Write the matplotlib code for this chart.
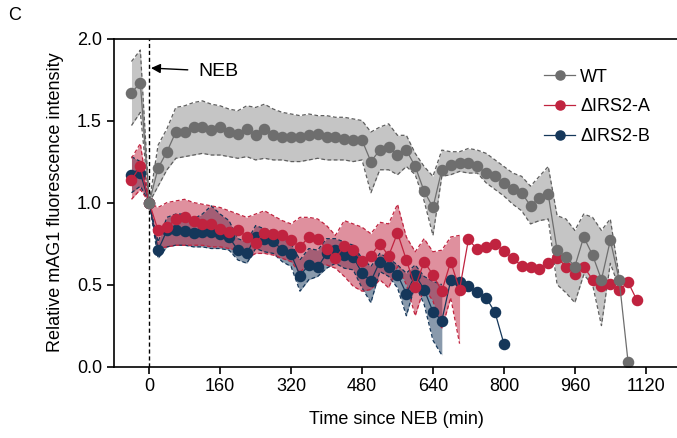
import numpy as np
import matplotlib
matplotlib.use("Agg")
import matplotlib.pyplot as plt

plt.rcParams['font.family'] = ['Liberation Sans', 'DejaVu Sans']

# time points (min since NEB), sampled every 20 min
t_wt = np.arange(-40, 1081, 20)
t_a = np.arange(-40, 1101, 20)
t_b = np.arange(-40, 801, 20)

wt_mean = [1.67, 1.73, 1.00, 1.21, 1.31, 1.43, 1.43, 1.46, 1.46, 1.44,
           1.46, 1.43, 1.42, 1.45, 1.41, 1.45, 1.41, 1.40, 1.40, 1.40,
           1.41, 1.42, 1.40, 1.40, 1.39, 1.38, 1.38, 1.25, 1.32, 1.34,
           1.29, 1.32, 1.22, 1.07, 0.97, 1.20, 1.23, 1.24, 1.24, 1.22,
           1.18, 1.16, 1.12, 1.08, 1.06, 0.98, 1.03, 1.05, 0.71, 0.67,
           0.61, 0.79, 0.68, 0.53, 0.77, 0.53, 0.03]
wt_upper = [1.86, 1.93, 1.00, 1.35, 1.45, 1.58, 1.59, 1.61, 1.62, 1.60,
            1.59, 1.57, 1.56, 1.59, 1.58, 1.60, 1.57, 1.55, 1.54, 1.53,
            1.54, 1.53, 1.53, 1.52, 1.52, 1.51, 1.50, 1.43, 1.46, 1.48,
            1.41, 1.41, 1.30, 1.22, 1.16, 1.32, 1.31, 1.31, 1.33, 1.32,
            1.30, 1.26, 1.22, 1.18, 1.16, 1.10, 1.16, 1.22, 0.92, 0.90,
            0.83, 0.93, 0.91, 0.83, 0.90, 0.55, np.nan]
wt_lower = [1.47, 1.55, 1.00, 1.10, 1.20, 1.27, 1.28, 1.29, 1.30, 1.29,
            1.29, 1.28, 1.27, 1.28, 1.26, 1.27, 1.26, 1.26, 1.25, 1.25,
            1.26, 1.27, 1.26, 1.26, 1.26, 1.25, 1.26, 1.06, 1.20, 1.20,
            1.17, 1.22, 1.17, 1.01, 0.80, 1.16, 1.17, 1.19, 1.18, 1.18,
            1.12, 1.08, 1.04, 0.99, 0.95, 0.87, 0.89, 0.90, 0.50, 0.45,
            0.39, 0.56, 0.50, 0.25, 0.63, 0.48, np.nan]

a_mean = [1.14, 1.22, 1.00, 0.83, 0.85, 0.90, 0.915, 0.89, 0.87, 0.87,
          0.84, 0.82, 0.835, 0.79, 0.755, 0.815, 0.81, 0.80, 0.77, 0.73,
          0.79, 0.775, 0.72, 0.66, 0.735, 0.71, 0.645, 0.675, 0.75, 0.675,
          0.815, 0.65, 0.485, 0.64, 0.56, 0.46, 0.64, 0.47, 0.775, 0.715,
          0.73, 0.75, 0.705, 0.66, 0.615, 0.605, 0.595, 0.63, 0.665, 0.61,
          0.565, 0.61, 0.53, 0.49, 0.505, 0.465, 0.515, 0.405]
a_upper = [1.27, 1.36, 1.00, 0.97, 1.00, 1.01, 1.02, 1.00, 0.99, 0.98,
           0.97, 0.95, 0.93, 0.91, 0.93, 0.95, 0.92, 0.89, 0.87, 0.91,
           0.91, 0.90, 0.86, 0.80, 0.89, 0.87, 0.85, 0.81, 0.88, 0.87,
           0.99, 0.79, 0.70, 0.78, 0.70, 0.71, 0.79, 0.80]
a_lower = [1.02, 1.08, 1.00, 0.72, 0.73, 0.74, 0.74, 0.74, 0.74, 0.73,
           0.73, 0.72, 0.71, 0.66, 0.69, 0.69, 0.68, 0.66, 0.64, 0.57,
           0.64, 0.62, 0.62, 0.60, 0.55, 0.49, 0.46, 0.47, 0.53, 0.48,
           0.61, 0.50, 0.31, 0.48, 0.40, 0.23, 0.42, 0.14]

b_mean = [1.17, 1.18, 1.00, 0.71, 0.83, 0.835, 0.825, 0.815, 0.82, 0.82,
          0.81, 0.79, 0.71, 0.69, 0.79, 0.775, 0.765, 0.71, 0.685, 0.555,
          0.62, 0.605, 0.69, 0.71, 0.68, 0.67, 0.57, 0.52, 0.64, 0.61,
          0.56, 0.445, 0.56, 0.47, 0.335, 0.28, 0.525, 0.515, 0.49, 0.455,
          0.42, 0.33, 0.14]
b_upper = [1.28, 1.25, 1.00, 0.76, 0.91, 0.93, 0.93, 0.90, 0.93, 0.98,
           0.93, 0.89, 0.78, 0.76, 0.86, 0.84, 0.83, 0.78, 0.75, 0.65,
           0.72, 0.71, 0.78, 0.78, 0.76, 0.74, 0.66, 0.61, 0.69, 0.66,
           0.62, 0.57, 0.62, 0.55, 0.52, 0.50]
b_lower = [1.06, 1.10, 1.00, 0.66, 0.73, 0.74, 0.74, 0.73, 0.73, 0.72,
           0.72, 0.71, 0.65, 0.63, 0.72, 0.70, 0.69, 0.64, 0.61, 0.46,
           0.53, 0.55, 0.60, 0.63, 0.60, 0.59, 0.48, 0.39, 0.58, 0.55,
           0.48, 0.31, 0.50, 0.38, 0.16, 0.07]

labels = ['WT', '\u0394IRS2-A', '\u0394IRS2-B']
x_ticks = [0, 160, 320, 480, 640, 800, 960, 1120]
y_ticks = [0.0, 0.5, 1.0, 1.5, 2.0]

c_wt = '#6e6e6e'
c_a = '#c0233f'
c_b = '#15375a'

fig = plt.figure(figsize=(6.77, 4.38), dpi=100)
ax = fig.add_axes([0.168, 0.163, 0.835, 0.749])

# shaded bands: WT, then B, then A on top
ax.fill_between(t_wt, wt_lower, wt_upper, color=c_wt, alpha=0.4, lw=0)
ax.plot(t_wt, wt_upper, color='#5e5e5e', lw=0.9, ls=(0, (3, 2)))
ax.plot(t_wt, wt_lower, color='#5e5e5e', lw=0.9, ls=(0, (3, 2)))

nb = len(b_upper)
ax.fill_between(t_b[:nb], b_lower, b_upper, color=c_b, alpha=0.5, lw=0)
ax.plot(t_b[:nb], b_upper, color=c_b, lw=0.9, ls=(0, (3, 2)))
ax.plot(t_b[:nb], b_lower, color=c_b, lw=0.9, ls=(0, (3, 2)))

na = len(a_upper)
ax.fill_between(t_a[:na], a_lower, a_upper, color=c_a, alpha=0.5, lw=0)
ax.plot(t_a[:na], a_upper, color=c_a, lw=0.9, ls=(0, (3, 2)))
ax.plot(t_a[:na], a_lower, color=c_a, lw=0.9, ls=(0, (3, 2)))

# NEB line
ax.axvline(0, color='black', lw=1.0, ls=(0, (3, 2)), zorder=2)

ms = 7.3
l_b, = ax.plot(t_b, b_mean, color=c_b, lw=0.9, marker='o', ms=ms, mec=c_b, label=labels[2])
l_a, = ax.plot(t_a, a_mean, color=c_a, lw=0.9, marker='o', ms=ms, mec=c_a, label=labels[1])
l_wt, = ax.plot(t_wt, wt_mean, color=c_wt, lw=0.9, marker='o', ms=ms, mec=c_wt, label=labels[0])

ax.annotate('NEB', xy=(4, 1.82), xytext=(112, 1.80), fontsize=14,
            ha='left', va='center',
            arrowprops=dict(arrowstyle='-|>', color='black', lw=1.0,
                            mutation_scale=14, shrinkA=6, shrinkB=0))

ax.set_xlim(-80, 1195)
ax.set_ylim(0, 2.0)
ax.set_xticks(x_ticks)
ax.set_yticks(y_ticks)
ax.set_yticklabels([f'{v:.1f}' for v in y_ticks])
ax.tick_params(labelsize=13, width=1.2, length=5, direction='out')
ax.spines['right'].set_visible(False)
for s in ['left', 'bottom', 'top']:
    ax.spines[s].set_linewidth(1.2)

ax.set_xlabel('Time since NEB (min)', fontsize=13, labelpad=11)
ax.set_ylabel('Relative mAG1 fluorescence intensity', fontsize=13, labelpad=9)

ax.legend(handles=[l_wt, l_a, l_b], loc='upper left', bbox_to_anchor=(0.78, 0.88),
          bbox_transform=fig.transFigure, frameon=False, fontsize=13,
          handlelength=1.7, handletextpad=0.3, labelspacing=0.7, markerscale=0.9)

fig.text(0.012, 0.955, 'C', fontsize=13)

fig.savefig('out.png', dpi=100)
